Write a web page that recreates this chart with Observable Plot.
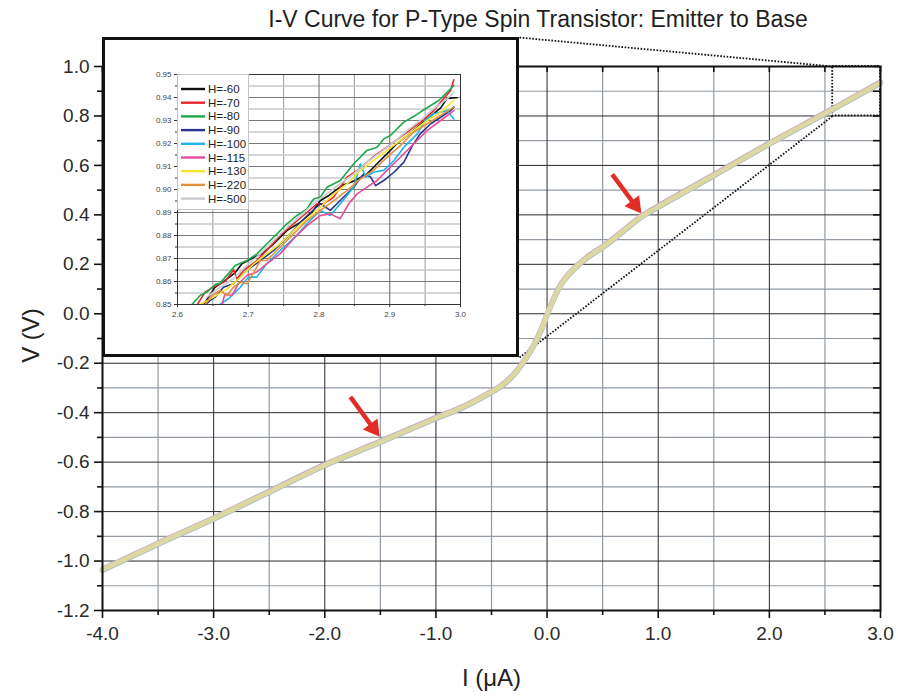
<!DOCTYPE html>
<html><head><meta charset="utf-8">
<script src="https://cdn.jsdelivr.net/npm/d3@7"></script>
<script src="https://cdn.jsdelivr.net/npm/@observablehq/plot@0.6"></script>
<style>
body{margin:0;background:#fff;font-family:"Liberation Sans",Arial,sans-serif;}
#wrap{position:relative;width:898px;height:696px;overflow:hidden;background:#fff;}
#title{position:absolute;top:6px;left:188px;width:700px;text-align:center;font-size:23px;line-height:26px;color:#1f1f1f;white-space:nowrap;}
#main{position:absolute;left:0;top:0;}
#inset{position:absolute;left:102px;top:37px;width:417px;height:320px;border:3px solid #111;box-sizing:border-box;background:#fff;}
#inset svg{position:absolute;left:0;top:0;}
#legend{position:absolute;left:72px;top:34px;width:72px;height:136px;background:#fff;border:1px solid #c4c4c4;box-sizing:border-box;}
</style>
</head><body>
<div id="wrap">
  <div id="main"></div>
  <div id="title">I-V Curve for P-Type Spin Transistor: Emitter to Base</div>
  <div id="inset"><div id="insetPlot"></div><div id="legend"></div></div>
</div>
<script>
// ---------- main curve (I in µA, V in V) ----------
const mainI = [-4.0,-3.5,-3.0,-2.5,-2.0,-1.5,-1.0,-0.75,-0.5,-0.4,-0.3,-0.2,-0.12,-0.05,0.0,0.05,0.1,0.15,0.25,0.36,0.5,0.6,0.7,0.84,1.0,1.5,2.0,2.5,3.0];
const mainV = [-1.035,-0.93,-0.828,-0.72,-0.612,-0.518,-0.422,-0.376,-0.316,-0.288,-0.246,-0.187,-0.128,-0.062,-0.004,0.05,0.098,0.135,0.185,0.227,0.27,0.303,0.34,0.39,0.433,0.56,0.688,0.81,0.935];

// tick values
const xMajor = [-4,-3,-2,-1,0,1,2,3];
const xMinor = [-3.5,-2.5,-1.5,-0.5,0.5,1.5,2.5];
const yMajor = [-1.2,-1.0,-0.8,-0.6,-0.4,-0.2,0.0,0.2,0.4,0.6,0.8,1.0];
const yMinor = [-1.1,-0.9,-0.7,-0.5,-0.3,-0.1,0.1,0.3,0.5,0.7,0.9];

// zoom annotation (data units of the main chart)
const zoomBox = [{x1:2.57, x2:3.0, y1:0.8, y2:1.0}];
const zoomLinks = [
  {x1:-0.248, y1:1.117, x2:2.57, y2:1.0},
  {x1:-0.248, y1:-0.177, x2:2.57, y2:0.8}
];
// red arrows: tail and head (triangle centre)
const arrowTail = [[-1.77,-0.336],[0.586,0.564]];
const arrowHead = [[-1.563,-0.463],[0.791,0.44]];

// ---------- inset series ----------
const seriesNames = ["H=-60","H=-70","H=-80","H=-90","H=-100","H=-115","H=-130","H=-220","H=-500"];
const seriesColors = ["#111111","#e8262a","#1ea84c","#28348f","#1fb4ec","#ea4a9c","#f4e62a","#e4913c","#c9ccd3"];
const h60 = [[2.637,0.850],[2.653,0.8575],[2.667,0.8604],[2.682,0.864],[2.691,0.8677],[2.705,0.870],[2.719,0.872],[2.736,0.8764],[2.755,0.8822],[2.774,0.8858],[2.790,0.890],[2.802,0.8952],[2.814,0.8974],[2.8325,0.9017],[2.851,0.9039],[2.868,0.9068],[2.882,0.9112],[2.896,0.9155],[2.910,0.9199],[2.925,0.9235],[2.939,0.9271],[2.953,0.9307],[2.972,0.9355],[2.981,0.9396],[2.995,0.9399]];
const h70 = [[2.628,0.850],[2.639,0.8554],[2.6486,0.8572],[2.6557,0.8583],[2.6675,0.8601],[2.6792,0.8651],[2.684,0.8612],[2.6934,0.8648],[2.712,0.8691],[2.726,0.8735],[2.745,0.880],[2.764,0.8851],[2.783,0.890],[2.797,0.8938],[2.8066,0.8938],[2.8208,0.8967],[2.8396,0.9054],[2.854,0.9083],[2.868,0.9119],[2.882,0.9155],[2.896,0.9184],[2.915,0.9228],[2.934,0.9271],[2.948,0.9303],[2.962,0.9343],[2.976,0.9394],[2.986,0.943],[2.9906,0.9477]];
const h80 = [[2.6203,0.850],[2.632,0.8539],[2.6415,0.8554],[2.6533,0.8587],[2.6604,0.8593],[2.6816,0.867],[2.6981,0.8691],[2.7123,0.872],[2.7264,0.8764],[2.7406,0.8807],[2.7547,0.8851],[2.7689,0.8887],[2.783,0.8916],[2.7925,0.8959],[2.8019,0.8967],[2.8113,0.901],[2.8302,0.9039],[2.8491,0.9112],[2.8679,0.917],[2.8821,0.9184],[2.8915,0.922],[2.9009,0.9235],[2.9198,0.9293],[2.9363,0.9322],[2.9505,0.9351],[2.9693,0.9387],[2.9906,0.9452]];
const h90 = [[2.640,0.850],[2.646,0.8517],[2.6533,0.8532],[2.665,0.8575],[2.679,0.859],[2.698,0.8648],[2.717,0.8691],[2.736,0.8735],[2.755,0.8793],[2.774,0.8858],[2.788,0.890],[2.802,0.8938],[2.816,0.8909],[2.830,0.8952],[2.849,0.901],[2.863,0.9068],[2.873,0.9054],[2.880,0.9017],[2.8915,0.9039],[2.906,0.9075],[2.920,0.9119],[2.932,0.9191],[2.943,0.9242],[2.958,0.9286],[2.972,0.9314],[2.986,0.9343],[2.9906,0.9358]];
const h100 = [[2.660,0.850],[2.672,0.8525],[2.679,0.8546],[2.689,0.8575],[2.700,0.8619],[2.712,0.8619],[2.726,0.8677],[2.745,0.8735],[2.764,0.8786],[2.783,0.8851],[2.802,0.8909],[2.816,0.8887],[2.830,0.8938],[2.849,0.901],[2.8585,0.9112],[2.866,0.9054],[2.877,0.9075],[2.8915,0.9083],[2.906,0.9126],[2.920,0.9184],[2.939,0.9242],[2.950,0.930],[2.962,0.9329],[2.981,0.9343],[2.9906,0.9307]];
const h115 = [[2.663,0.850],[2.667,0.8546],[2.677,0.8539],[2.686,0.859],[2.698,0.8626],[2.712,0.8641],[2.726,0.8677],[2.745,0.872],[2.764,0.8786],[2.783,0.8843],[2.802,0.8887],[2.816,0.8894],[2.830,0.8873],[2.842,0.8938],[2.854,0.8981],[2.868,0.901],[2.882,0.9039],[2.896,0.9083],[2.915,0.914],[2.934,0.9199],[2.953,0.9257],[2.972,0.930],[2.9906,0.9343]];
const h130 = [[2.632,0.850],[2.651,0.8532],[2.670,0.8568],[2.689,0.8619],[2.708,0.8677],[2.726,0.872],[2.745,0.8764],[2.764,0.8822],[2.783,0.8873],[2.802,0.8923],[2.821,0.8981],[2.840,0.9025],[2.8585,0.9083],[2.877,0.9126],[2.896,0.917],[2.915,0.9213],[2.934,0.9257],[2.953,0.930],[2.972,0.9336],[2.9906,0.9387]];
const h220 = [[2.639,0.850],[2.649,0.8539],[2.660,0.8561],[2.670,0.8539],[2.679,0.8575],[2.689,0.8597],[2.698,0.859],[2.708,0.864],[2.717,0.8691],[2.726,0.8691],[2.745,0.8749],[2.764,0.8807],[2.783,0.8865],[2.802,0.8909],[2.821,0.8952],[2.840,0.8996],[2.8585,0.9046],[2.877,0.9083],[2.896,0.914],[2.915,0.9191],[2.934,0.925],[2.953,0.9286],[2.972,0.9322],[2.9906,0.9358]];
const h500 = [[2.6415,0.8532],[2.660,0.8575],[2.679,0.8612],[2.698,0.867],[2.717,0.872],[2.736,0.8778],[2.755,0.8836],[2.774,0.8887],[2.792,0.8938],[2.811,0.8981],[2.830,0.9025],[2.849,0.9068],[2.868,0.9119],[2.887,0.9162],[2.906,0.9206],[2.925,0.9257],[2.943,0.930],[2.962,0.9351],[2.981,0.9394],[2.9906,0.9423]];
const seriesData = [h60,h70,h80,h90,h100,h115,h130,h220,h500];

const insetXMajor = [2.6,2.7,2.8,2.9,3.0];
const insetXMinor = [2.65,2.75,2.85,2.95];
const insetYMajor = [0.85,0.86,0.87,0.88,0.89,0.90,0.91,0.92,0.93,0.94,0.95];
const insetYMinor = [0.855,0.865,0.875,0.885,0.895,0.905,0.915,0.925,0.935,0.945];

// ---------- build main chart ----------
const FONT = '"Liberation Sans", Arial, sans-serif';
const W = 898, H = 696, mL = 102, mR = 18, mT = 66, mB = 86;
const pw = W - mL - mR, ph = H - mT - mB;
const mainPts = mainI.map((x, i) => ({I: x, V: mainV[i]}));
const allX = xMajor.concat(xMinor), allY = yMajor.concat(yMinor);

const main = Plot.plot({
  width: W, height: H, marginLeft: mL, marginRight: mR, marginTop: mT, marginBottom: mB,
  x: {domain: [-4, 3], axis: null},
  y: {domain: [-1.2, 1.0], axis: null},
  style: {fontFamily: FONT, background: "transparent", color: "#2a2a2a", overflow: "visible"},
  marks: [
    Plot.ruleX(xMinor, {stroke: "#929ba4", strokeWidth: 1.2}),
    Plot.ruleY(yMinor, {stroke: "#929ba4", strokeWidth: 1.2}),
    Plot.ruleX(xMajor, {stroke: "#2a2a2a", strokeWidth: 1}),
    Plot.ruleY(yMajor, {stroke: "#2a2a2a", strokeWidth: 1}),
    Plot.rect(zoomBox, {x1: "x1", x2: "x2", y1: "y1", y2: "y2", fill: "none", stroke: "#111", strokeWidth: 1.8, strokeDasharray: "1.6,1.6"}),
    Plot.link(zoomLinks, {x1: "x1", y1: "y1", x2: "x2", y2: "y2", stroke: "#111", strokeWidth: 1.8, strokeDasharray: "1.6,1.6"}),
    Plot.line(mainPts, {x: "I", y: "V", stroke: "#c3a8d0", strokeWidth: 5.4, dy: -0.6, curve: "catmull-rom"}),
    Plot.line(mainPts, {x: "I", y: "V", stroke: "#a2b4cf", strokeWidth: 5.2, dy: 0.6, curve: "catmull-rom"}),
    Plot.line(mainPts, {x: "I", y: "V", stroke: "#ddd8a0", strokeWidth: 4.8, curve: "catmull-rom"}),
    Plot.link(arrowTail.map((t, i) => ({x1: t[0], y1: t[1], x2: arrowHead[i][0], y2: arrowHead[i][1]})),
      {x1: "x1", y1: "y1", x2: "x2", y2: "y2", stroke: "#e42c26", strokeWidth: 4.5}),
    Plot.dot(arrowHead, {x: d => d[0], y: d => d[1], symbol: "triangle", r: 6.8, fill: "#e42c26", stroke: "none", rotate: 143}),
    Plot.frame({stroke: "#111", strokeWidth: 2}),
    Plot.tickX(allX, {x: d => d, stroke: "#111", strokeWidth: 1.6, insetBottom: ph - 6}),
    Plot.tickY(allY, {y: d => d, stroke: "#111", strokeWidth: 1.6, insetLeft: pw - 7}),
    Plot.axisX(xMajor, {anchor: "bottom", tickSize: 8, tickPadding: 8, tickFormat: d => d.toFixed(1), fontSize: 19, stroke: "#111", strokeWidth: 1.6, label: null}),
    Plot.axisX(xMinor, {anchor: "bottom", tickSize: 5, tickFormat: () => "", stroke: "#111", strokeWidth: 1.6, label: null}),
    Plot.axisY(yMajor, {anchor: "left", tickSize: 8, tickPadding: 5, tickFormat: d => d.toFixed(1), fontSize: 19, stroke: "#111", strokeWidth: 1.6, label: null}),
    Plot.axisY(yMinor, {anchor: "left", tickSize: 5, tickFormat: () => "", stroke: "#111", strokeWidth: 1.6, label: null}),
    Plot.text(["I (\u03BCA)"], {frameAnchor: "bottom", dy: 68, fontSize: 24, fill: "#222", lineAnchor: "middle"}),
    Plot.text(["V (V)"], {frameAnchor: "left", dx: -71, dy: -3, rotate: -90, fontSize: 24, fill: "#222", textAnchor: "middle", lineAnchor: "middle"})
  ]
});
document.getElementById("main").appendChild(main);

// ---------- build inset ----------
const iW = 411, iH = 314, iL = 72, iR = 56, iT = 34, iB = 50;
const insetMarks = [
  Plot.ruleX(insetXMinor, {stroke: "#9a9a9a", strokeWidth: 1}),
  Plot.ruleY(insetYMinor, {stroke: "#c5c8cc", strokeWidth: 1.4}),
  Plot.ruleX(insetXMajor, {stroke: "#666", strokeWidth: 1}),
  Plot.ruleY(insetYMajor, {stroke: "#7a7a7a", strokeWidth: 1})
];
seriesData.forEach((s, i) => {
  insetMarks.push(Plot.line(s, {x: d => d[0], y: d => d[1], stroke: seriesColors[i], strokeWidth: 1.6, clip: true}));
});
insetMarks.push(
  Plot.frame({stroke: "#333", strokeWidth: 1}),
  Plot.axisX(insetXMajor, {anchor: "bottom", tickSize: 3, tickPadding: 4, tickFormat: d => d.toFixed(1), fontSize: 8, fill: "#444", stroke: "#333", label: null}),
  Plot.axisX(insetXMinor, {anchor: "bottom", tickSize: 2, tickFormat: () => "", stroke: "#333", label: null}),
  Plot.axisY(insetYMajor, {anchor: "left", tickSize: 3, tickPadding: 3, tickFormat: d => d.toFixed(2), fontSize: 8, fill: "#444", stroke: "#333", label: null}),
  Plot.axisY(insetYMinor, {anchor: "left", tickSize: 2, tickFormat: () => "", stroke: "#333", label: null})
);
const inset = Plot.plot({
  width: iW, height: iH, marginLeft: iL, marginRight: iR, marginTop: iT, marginBottom: iB,
  x: {domain: [2.6, 3.0], axis: null},
  y: {domain: [0.85, 0.95], axis: null},
  style: {fontFamily: FONT, background: "transparent", color: "#444", overflow: "visible"},
  marks: insetMarks
});
document.getElementById("insetPlot").appendChild(inset);

// ---------- inset legend ----------
const lg = d3.select("#legend").append("svg").attr("width", 72).attr("height", 136)
  .style("position", "absolute").style("left", "-1px").style("top", "-1px");
seriesNames.forEach((name, i) => {
  const y = 15 + i * 13.7;
  lg.append("line").attr("x1", 4).attr("x2", 28).attr("y1", y).attr("y2", y)
    .attr("stroke", seriesColors[i]).attr("stroke-width", 2.4);
  lg.append("text").attr("x", 31).attr("y", y).attr("dy", "0.35em")
    .attr("font-family", FONT).attr("font-size", 11.5).attr("fill", "#222").text(name);
});
</script>
</body></html>
